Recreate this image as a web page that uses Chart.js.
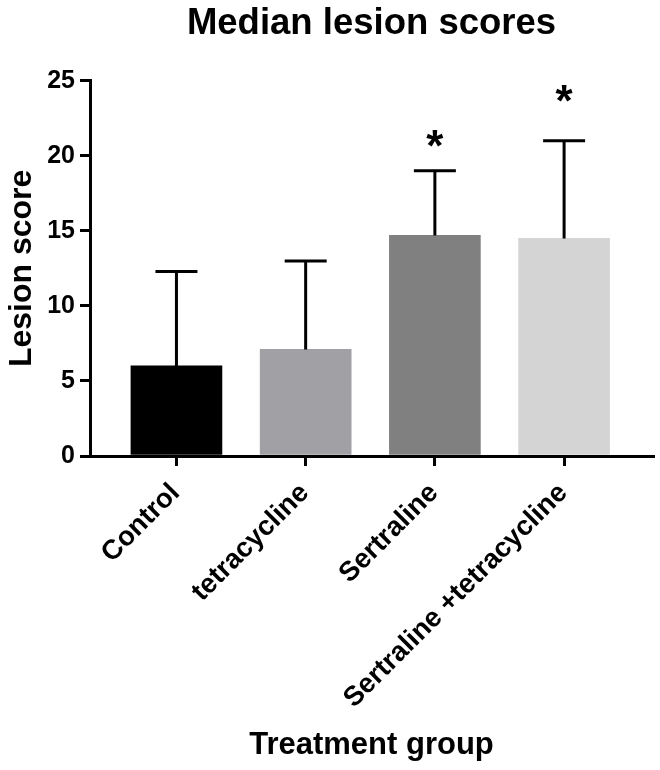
<!DOCTYPE html>
<html>
<head>
<meta charset="utf-8">
<script src="https://cdn.jsdelivr.net/npm/chart.js@4/dist/chart.umd.min.js"></script>
<style>
html,body{margin:0;padding:0;background:#fff;}
#wrap{width:660px;height:770px;}
</style>
</head>
<body>
<div id="wrap"><canvas id="c" width="660" height="770"></canvas></div>
<script>
const categories = ['Control', 'tetracycline', 'Sertraline', 'Sertraline +tetracycline'];
const medians = [6.0, 7.1, 14.7, 14.5];
const upperError = [12.3, 13.0, 19.0, 21.0];
const significance = ['', '', '*', '*'];
const significanceLevel = [null, null, 21, 24];
const barColors = ['#000000', '#a1a1a5', '#808080', '#d4d4d4'];
const yTicks = [0, 5, 10, 15, 20, 25];

const FONT = '"Liberation Sans", Arial, Helvetica, sans-serif';

const errorBarPlugin = {
  id: 'errorBars',
  afterDatasetsDraw(chart) {
    const ctx = chart.ctx;
    const xs = chart.scales.x, ys = chart.scales.y;
    ctx.save();
    ctx.strokeStyle = '#000';
    ctx.lineWidth = 3;
    ctx.lineCap = 'butt';
    medians.forEach((m, i) => {
      const x = xs.getPixelForValue(i);
      const y0 = ys.getPixelForValue(m);
      const y1 = ys.getPixelForValue(upperError[i]);
      ctx.beginPath();
      ctx.moveTo(x, y0);
      ctx.lineTo(x, y1);
      ctx.moveTo(x - 21, y1);
      ctx.lineTo(x + 21, y1);
      ctx.stroke();
      if (significance[i]) {
        ctx.fillStyle = '#000';
        ctx.font = 'bold 44px ' + FONT;
        ctx.textAlign = 'center';
        ctx.textBaseline = 'middle';
        const ys2 = ys.getPixelForValue(significanceLevel[i]);
        ctx.fillText(significance[i], x, ys2 + 8);
      }
    });
    ctx.restore();
  }
};

new Chart(document.getElementById('c'), {
  type: 'bar',
  data: {
    datasets: [{
      data: medians.map((v, i) => ({x: i, y: v})),
      backgroundColor: barColors,
      borderWidth: 0,
      barThickness: 91
    }]
  },
  options: {
    responsive: false,
    animation: false,
    layout: {padding: {left: 3, right: 7, top: 0, bottom: 0}},
    plugins: {
      legend: {display: false},
      tooltip: {enabled: false},
      title: {
        display: true,
        text: 'Median lesion scores',
        fullSize: false,
        color: '#000',
        font: {family: FONT, size: 36.5, weight: 'bold'},
        padding: {top: 2, bottom: 35}
      }
    },
    scales: {
      x: {
        type: 'linear',
        offset: false,
        min: -0.669,
        max: 3.688,
        afterBuildTicks: s => { s.ticks = categories.map((c, i) => ({value: i})); },
        afterFit: s => { s.height = 314; },
        grid: {offset: false, drawOnChartArea: false, drawTicks: true, tickLength: 10, color: '#000', lineWidth: 3},
        border: {display: true, color: '#000', width: 3},
        ticks: {
          autoSkip: false,
          maxRotation: 45,
          minRotation: 45,
          labelOffset: -1,
          padding: 11,
          color: '#000',
          font: {family: FONT, size: 27.5, weight: 'bold'},
          callback: v => categories[v] !== undefined ? categories[v] : ''
        },
        title: {
          display: true,
          text: 'Treatment group',
          color: '#000',
          font: {family: FONT, size: 31, weight: 'bold'},
          padding: {top: 0, bottom: 6}
        }
      },
      y: {
        min: 0,
        max: 25,
        afterBuildTicks: s => { s.ticks = yTicks.map(v => ({value: v})); },
        afterFit: s => { s.width = 87; },
        grid: {drawOnChartArea: false, drawTicks: true, tickLength: 10, color: '#000', lineWidth: 3},
        border: {display: true, color: '#000', width: 3},
        ticks: {
          padding: 5,
          color: '#000',
          font: {family: FONT, size: 25, weight: 'bold'}
        },
        title: {
          display: true,
          text: 'Lesion score',
          color: '#000',
          font: {family: FONT, size: 32, weight: 'bold'},
          padding: {top: 0, bottom: 0}
        }
      }
    }
  },
  plugins: [errorBarPlugin]
});
</script>
</body>
</html>
